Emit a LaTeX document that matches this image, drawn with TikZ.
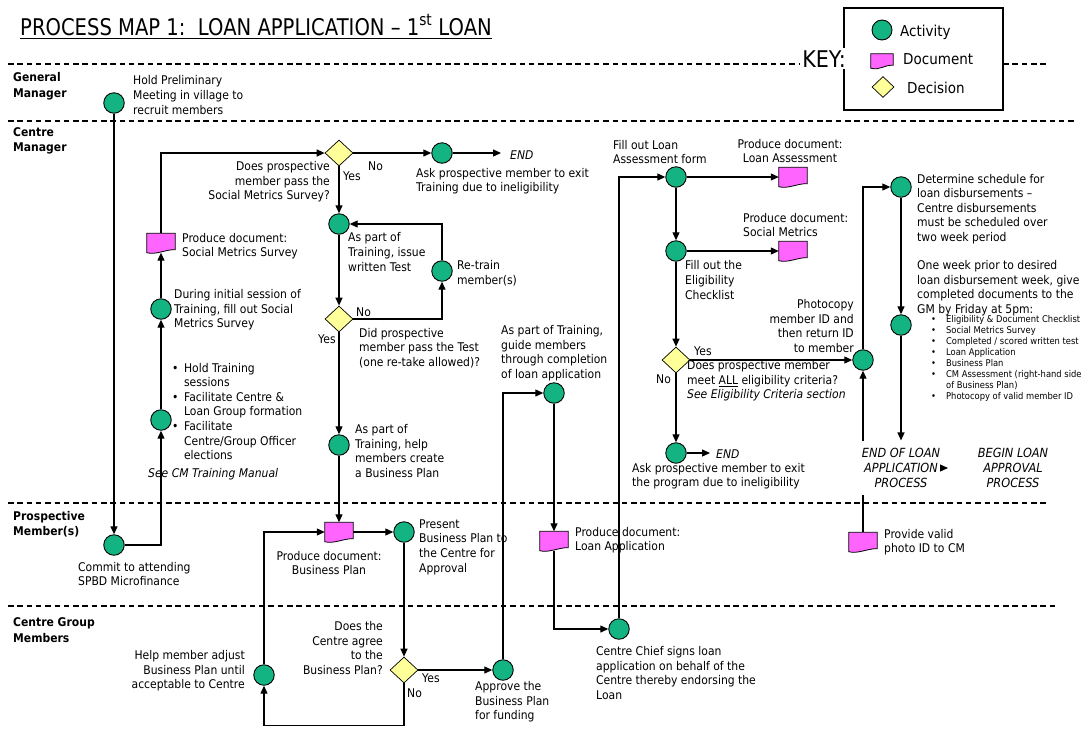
\documentclass[tikz,border=0pt]{standalone}
\usepackage{fontspec}
\setmainfont{DejaVu Sans}[FakeStretch=0.9]
\usepackage{graphicx}
\usetikzlibrary{shapes.geometric,arrows.meta,calc}
\definecolor{actgreen}{RGB}{20,180,130}
\definecolor{docpink}{RGB}{255,100,255}
\definecolor{decyellow}{RGB}{255,255,153}
\tikzset{
  act/.style={circle,draw=black,line width=0.9pt,fill=actgreen,minimum size=20.5pt,inner sep=0pt},
  dec/.style={diamond,draw=black,line width=0.7pt,fill=decyellow,minimum width=28pt,minimum height=26pt,inner sep=0pt},
  docbox/.style={rectangle,minimum width=28pt,minimum height=19pt,inner sep=0pt},
  docfill/.style={draw=black,line width=0.8pt,fill=docpink},
  txt/.style={inner sep=0pt,align=left,font=\fontsize{12}{14.6}\selectfont},
  txtr/.style={txt,align=right},
  txtc/.style={txt,align=center},
  itx/.style={txt,font=\fontsize{12}{14.6}\selectfont\itshape},
  lanelbl/.style={inner sep=0pt,align=left,font=\fontsize{12}{15.5}\selectfont\bfseries},
  arr/.style={line width=1.2pt,-{Triangle[length=8pt,width=7pt]}},
  lane/.style={line width=1.3pt,dash pattern=on 5.5pt off 3.8pt},
  keytxt/.style={inner sep=0pt,anchor=west,font=\fontsize{15}{17}\selectfont},
}
\newcommand{\docshape}[3][]{%
  \node[docbox,#1] (#2) at (#3) {};
  \filldraw[docfill] (#2.north west) -- (#2.north east) -- ($(#2.south east)+(0,-3)$)
    .. controls ($(#2.south east)+(-9,-3.5)$) and ($(#2.south west)+(9,2.5)$) .. (#2.south west) -- cycle;}
\begin{document}
\begin{tikzpicture}[x=1pt,y=-1pt]
\fill[white] (0,0) rectangle (1083,729);
\useasboundingbox (0,0) rectangle (1083,729);

% ---------- title ----------
\node[inner sep=0pt,anchor=base west,font=\fontsize{23}{27}\selectfont] (title) at (20,35)
  {\scalebox{0.946}[1]{PROCESS MAP 1:\ \ LOAN APPLICATION – 1\textsuperscript{st} LOAN}};
\draw[line width=1.2pt] ($(title.base west)+(0,3.5)$) -- ($(title.base east)+(0,3.5)$);

% ---------- lanes ----------
\coordinate (l1a) at (8,64);   \coordinate (l1b) at (1048,64);
\coordinate (l2a) at (8,121);  \coordinate (l2b) at (1075,121);
\coordinate (l3a) at (8,503);  \coordinate (l3b) at (1048,503);
\coordinate (l4a) at (8,606);  \coordinate (l4b) at (1055,606);
\draw[lane] (l1a) -- (l1b);
\draw[lane] (l2a) -- (l2b);
\draw[lane] (l3a) -- (l3b);
\draw[lane] (l4a) -- (l4b);
\node[lanelbl,anchor=west] (lgm) at (13,86) {General\\Manager};
\node[lanelbl,anchor=west] (lcm) at (13,141) {Centre\\Manager};
\node[lanelbl,anchor=west] (lpm) at (13,524) {Prospective\\Member(s)};
\node[lanelbl,anchor=west] (lcg) at (13,630) {Centre Group\\Members};

% ---------- key ----------
\node[draw=black,fill=white,line width=1.1pt,minimum width=159pt,minimum height=102pt,inner sep=0pt] (keybox) at (923.5,59) {};
\node[inner sep=2pt,fill=white,anchor=base east,font=\fontsize{23}{27}\selectfont] (keylbl) at (848,67) {KEY:};
\node[act,minimum size=20pt] (kact) at (882,30) {};
\node[keytxt] (kacttxt) at (900,32) {Activity};
\docshape[minimum width=22pt,minimum height=14pt]{kdoc}{882,61}
\node[keytxt] (kdoctxt) at (903,59) {Document};
\node[dec,minimum width=22pt,minimum height=21pt] (kdec) at (883,87) {};
\node[keytxt] (kdectxt) at (907,88) {Decision};

% ---------- activity / decision / document nodes ----------
\node[act] (gm) at (114,103) {};
\node[act] (commit) at (114,545) {};
\node[act] (train) at (161,420) {};
\node[act] (survey) at (161,309) {};
\docshape{docsms}{161,243}
\node[dec] (d1) at (339,153) {};
\node[act] (exit1) at (442,153) {};
\coordinate (end1) at (501,153);
\node[act] (test) at (339,224) {};
\node[dec] (d2) at (339,319) {};
\node[act] (retrain) at (442,271) {};
\node[act] (bplan) at (339,445) {};
\docshape{docbp}{339,532}
\node[act] (present) at (404,532) {};
\node[dec] (d3) at (404,670) {};
\node[act] (approve) at (503,670) {};
\node[act] (adjust) at (264,675) {};
\coordinate (bot) at (404,725.5);
\node[act] (guide) at (554,393) {};
\docshape{docla}{554,541}
\node[act] (chief) at (619,629) {};
\node[act] (la) at (676,177) {};
\docshape{docass}{793,177}
\node[act] (elig) at (676,251) {};
\docshape{docsm}{793,251}
\node[dec] (d4) at (676,360) {};
\node[act] (photo) at (863,360) {};
\node[act] (exit2) at (676,453) {};
\coordinate (end2) at (710,453);
\docshape{docid}{863,542}
\node[act] (sched) at (901,187) {};
\node[act] (oneweek) at (901,325) {};

% ---------- texts ----------
\node[txt,anchor=west] (gmtxt) at (133,95) {Hold Preliminary\\Meeting in village to\\recruit members};
\node[txt,anchor=west] (committxt) at (78,574) {Commit to attending\\SPBD Microfinance};
\node[txt,anchor=west] (traintxt) at (172,413) {\begin{tabular}{@{}l@{\hspace{5.5pt}}l@{}}
  \textbullet & Hold Training\\ & sessions\\
  \textbullet & Facilitate Centre \&\\ & Loan Group formation\\
  \textbullet & Facilitate\\ & Centre/Group Officer\\ & elections\end{tabular}};
\node[itx,anchor=west] (traintxt2) at (148,474) {See CM Training Manual};
\node[txt,anchor=west] (surveytxt) at (174,310) {During initial session of\\Training, fill out Social\\Metrics Survey};
\node[txt,anchor=west] (docsmstxt) at (182,246) {Produce document:\\Social Metrics Survey};
\node[txtr,anchor=east] (d1txt) at (330,182) {Does prospective\\member pass the\\Social Metrics Survey?};
\node[txt,anchor=west] (d1yes) at (343,176) {Yes};
\node[txt,anchor=west] (d1no) at (368,166) {No};
\node[txt,anchor=west] (exit1txt) at (416,181) {Ask prospective member to exit\\Training due to ineligibility};
\node[itx,anchor=west] (end1txt) at (510,155) {END};
\node[txt,anchor=west] (testtxt) at (348,252) {As part of\\Training, issue\\written Test};
\node[txt,anchor=west] (retraintxt) at (457,273) {Re-train\\member(s)};
\node[txt,anchor=west] (d2no) at (356,312) {No};
\node[txt,anchor=west] (d2yes) at (318,339) {Yes};
\node[txt,anchor=west] (d2txt) at (359,348) {Did prospective\\member pass the Test\\(one re-take allowed)?};
\node[txt,anchor=west] (bplantxt) at (355,451) {As part of\\Training, help\\members create\\a Business Plan};
\node[txtc,anchor=center] (docbptxt) at (329,563) {Produce document:\\Business Plan};
\node[txt,anchor=west] (presenttxt) at (419,547) {Present\\Business Plan to\\the Centre for\\Approval};
\node[txtr,anchor=east] (d3txt) at (383,648) {Does the\\Centre agree\\to the\\Business Plan?};
\node[txt,anchor=west] (d3yes) at (422,678) {Yes};
\node[txt,anchor=west] (d3no) at (407,693) {No};
\node[txt,anchor=west] (approvetxt) at (475,702) {Approve the\\Business Plan\\for funding};
\node[txtr,anchor=east] (adjusttxt) at (245,671) {Help member adjust\\Business Plan until\\acceptable to Centre};
\node[txt,anchor=west] (guidetxt) at (501,353) {As part of Training,\\guide members\\through completion\\of loan application};
\node[txt,anchor=west] (doclatxt) at (575,540) {Produce document:\\Loan Application};
\node[txt,anchor=west] (chieftxt) at (596,673) {Centre Chief signs loan\\application on behalf of the\\Centre thereby endorsing the\\Loan};
\node[txt,anchor=west] (latxt) at (613,152) {Fill out Loan\\Assessment form};
\node[txtc,anchor=center] (docasstxt) at (790,151) {Produce document:\\Loan Assessment};
\node[txt,anchor=west] (docsmtxt) at (743,225) {Produce document:\\Social Metrics};
\node[txt,anchor=west] (eligtxt) at (685,280) {Fill out the\\Eligibility\\Checklist};
\node[txt,anchor=west] (d4yes) at (694,351) {Yes};
\node[txt,anchor=west] (d4no) at (656,379) {No};
\node[txt,anchor=west] (d4txt) at (687,381) {Does prospective member\\meet \underline{ALL} eligibility criteria?\\\textit{See Eligibility Criteria section}};
\node[txtr,anchor=east] (phototxt) at (854,326) {Photocopy\\member ID and\\then return ID\\to member};
\node[itx,anchor=west] (end2txt) at (716,454) {END};
\node[txt,anchor=west] (exit2txt) at (632,476) {Ask prospective member to exit\\the program due to ineligibility};
\node[txt,anchor=west] (docidtxt) at (884,542) {Provide valid\\photo ID to CM};
\node[txt,anchor=west] (schedtxt) at (917,209) {Determine schedule for\\loan disbursements –\\Centre disbursements\\must be scheduled over\\two week period};
\node[txt,anchor=west] (oneweektxt) at (917,288) {One week prior to desired\\loan disbursement week, give\\completed documents to the\\GM by Friday at 5pm:};
\node[inner sep=0pt,anchor=west,font=\fontsize{9.3}{11}\selectfont] (doclist) at (931,359) {\begin{tabular}{@{}l@{\hspace{10pt}}l@{}}
  \textbullet & Eligibility \& Document Checklist\\
  \textbullet & Social Metrics Survey\\
  \textbullet & Completed / scored written test\\
  \textbullet & Loan Application\\
  \textbullet & Business Plan\\
  \textbullet & CM Assessment (right-hand side\\
   & of Business Plan)\\
  \textbullet & Photocopy of valid member ID\end{tabular}};
\node[inner sep=0pt,align=center,font=\fontsize{12.6}{14.6}\selectfont\itshape] (begintxt) at (1013,468) {BEGIN LOAN\\APPROVAL\\PROCESS};

% ---------- connectors ----------
\draw[arr] (gm) -- (commit);
\draw[arr] (commit) -| (train);
\draw[arr] (train) -- (survey);
\draw[arr] (survey) -- (docsms);
\draw[arr] (docsms) |- (d1);
\draw[arr] (d1) -- (exit1);
\draw[arr] (exit1) -- (end1);
\draw[arr] (d1) -- (test);
\draw[arr] (test) -- (d2);
\draw[arr] (d2) -| (retrain);
\draw[arr] (retrain) |- (test);
\draw[arr] (d2) -- (bplan);
\draw[arr] (bplan) -- (docbp);
\draw[arr] (docbp) -- (present);
\draw[arr] (present) -- (d3);
\draw[arr] (d3) -- (approve);
\draw[arr] (d3) -- (bot) -| (adjust);
\draw[arr] (adjust) |- (docbp);
\draw[arr] (approve) |- (guide);
\draw[arr] (guide) -- (docla);
\draw[arr] (docla) |- (chief);
\draw[arr] (chief) |- (la);
\draw[arr] (la) -- (docass);
\draw[arr] (la) -- (elig);
\draw[arr] (elig) -- (docsm);
\draw[arr] (elig) -- (d4);
\draw[arr] (d4) -- (photo);
\draw[arr] (d4) -- (exit2);
\draw[arr] (exit2) -- (end2);
\draw[arr] (docid) -- (photo);
\draw[arr] (photo) |- (sched);
\draw[arr] (sched) -- (oneweek);

\node[fill=white,inner xsep=4pt,inner ysep=8pt,align=center,font=\fontsize{12.6}{14.6}\selectfont\itshape] (endtxt) at (901,468) {END OF LOAN\\APPLICATION\\PROCESS};
\draw[arr] (oneweek) -- (endtxt);
\coordinate (ea) at (941,468);
\coordinate (eb) at (948,468);
\draw[arr] (ea) -- (eb);
\end{tikzpicture}
\end{document}
